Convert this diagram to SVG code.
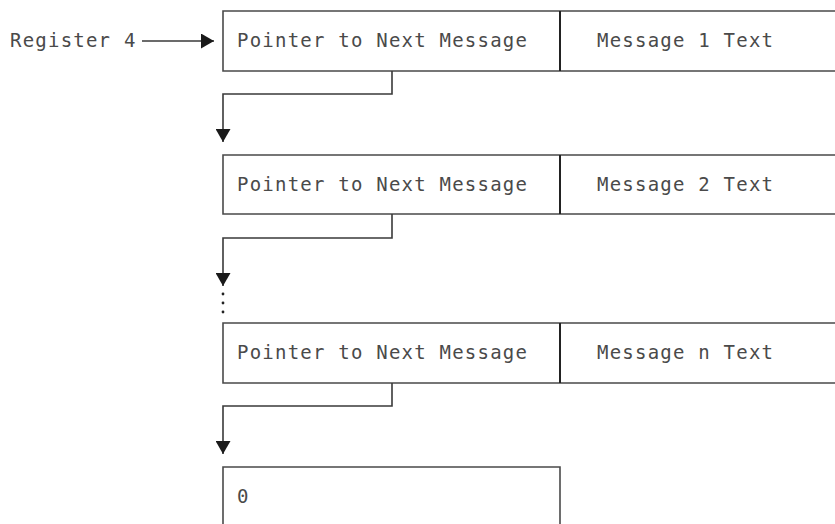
<svg xmlns="http://www.w3.org/2000/svg" width="835" height="524" viewBox="0 0 835 524">
<style>
.box{fill:none;stroke:#4a4a4a;stroke-width:1.6}
.div{fill:none;stroke:#222;stroke-width:2}
.t{font-family:"DejaVu Sans Mono",monospace;font-size:19px;letter-spacing:1.22px;fill:#4a4a4a}
.c{fill:none;stroke:#3a3a3a;stroke-width:1.6}
</style>
<defs>
<marker id="ah" viewBox="0 0 13 15" refX="13" refY="7.5" markerWidth="13" markerHeight="15" markerUnits="userSpaceOnUse" orient="auto">
<path d="M0,0 L13,7.5 L0,15 Z" fill="#1a1a1a"/>
</marker>
</defs>
<g id="register4">
<text class="t" x="10" y="47">Register 4</text>
</g>
<g id="node1">
<path class="box" d="M835,11 H223 V71 H835"/>
<line class="div" x1="560" y1="11" x2="560" y2="71"/>
<text class="t" x="237" y="47">Pointer to Next Message</text>
<text class="t" x="597" y="47">Message 1 Text</text>
</g>
<g id="node2">
<path class="box" d="M835,155 H223 V214 H835"/>
<line class="div" x1="560" y1="155" x2="560" y2="214"/>
<text class="t" x="237" y="191">Pointer to Next Message</text>
<text class="t" x="597" y="191">Message 2 Text</text>
</g>
<g id="node3">
<path class="box" d="M835,323 H223 V383 H835"/>
<line class="div" x1="560" y1="323" x2="560" y2="383"/>
<text class="t" x="237" y="359">Pointer to Next Message</text>
<text class="t" x="597" y="359">Message n Text</text>
</g>
<g id="node4">
<path class="box" d="M223,524 V467 H560 V524"/>
<text class="t" x="237" y="503">0</text>
</g>
<g id="connectors">
<line class="c" x1="142" y1="41" x2="214" y2="41" marker-end="url(#ah)"/>
<path class="c" d="M392,71 V94 H223 V142" marker-end="url(#ah)"/>
<path class="c" d="M392,214 V238 H223 V286" marker-end="url(#ah)"/>
<path class="c" d="M392,383 V406 H223 V454" marker-end="url(#ah)"/>
<circle cx="223" cy="294" r="1.4" fill="#222"/>
<circle cx="223" cy="303" r="1.4" fill="#222"/>
<circle cx="223" cy="312" r="1.4" fill="#222"/>
</g>
</svg>
